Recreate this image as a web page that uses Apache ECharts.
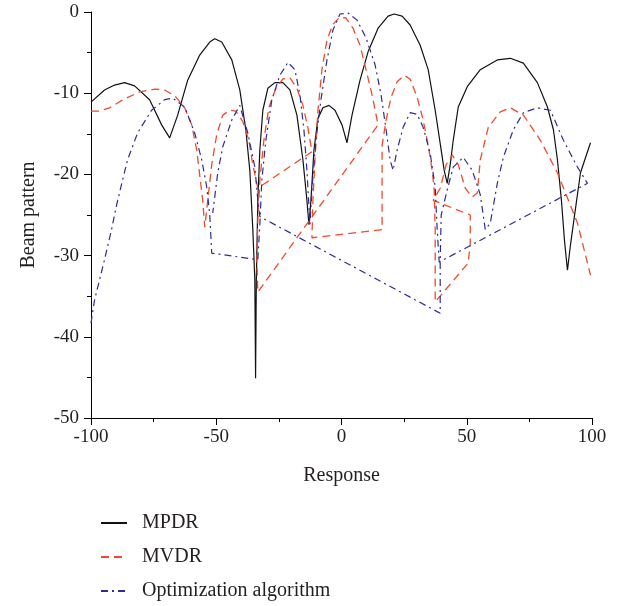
<!DOCTYPE html>
<html>
<head>
<meta charset="utf-8">
<script src="https://cdn.jsdelivr.net/npm/echarts@6/dist/echarts.min.js"></script>
<style>
  html, body { margin: 0; padding: 0; background: #fff; }
  #chart { width: 625px; height: 606px; }
</style>
</head>
<body>
<div id="chart"></div>
<script>
// x axis / y axis ticks
const xTicks = [-100, -50, 0, 50, 100];
const yTicks = [-50, -40, -30, -20, -10, 0];
const seriesNames = ['MPDR', 'MVDR', 'Optimization algorithm'];

// MPDR (black solid)
const mpdrX = [-100, -94.6, -90.6, -86.6, -82.6, -76.6, -71.8, -68.6, -65.4, -61.4, -56.6, -52.6, -50.6, -47.8, -43.8, -40.6,
  -38.2, -36.6, -35.4, -34.6, -34.3, -34.0, -33.4, -32.6, -31.4, -29.4, -26.6, -23.4, -20.6, -17.8, -15.4, -13.8, -13.0,
  -12.2, -11.0, -9.4, -7.4, -5.0, -2.6, 0.2, 2.2, 4.2, 7.4, 10.6, 14.6, 18.6, 21.0, 24.2, 27.4, 31.4, 34.6, 37.4, 39.8,
  41.0, 42.2, 43.4, 44.6, 46.6, 50.2, 55.4, 62.2, 67.4, 72.6, 78.2, 82.2, 84.6, 86.2, 87.8, 89.0, 90.2, 91.4, 92.6, 95.4, 99.4];
const mpdrY = [-11.1, -9.6, -9.0, -8.7, -9.1, -10.8, -13.9, -15.5, -12.7, -8.4, -5.3, -3.7, -3.3, -3.7, -5.9, -9.6,
  -14.5, -19.5, -26.8, -33.0, -45.1, -33.0, -23.2, -17.0, -12.1, -9.4, -8.7, -8.7, -9.6, -12.7, -18.2, -23.2, -26.2,
  -23.2, -17.0, -13.1, -11.8, -11.5, -12.1, -13.9, -16.1, -12.7, -8.4, -4.9, -2.0, -0.5, -0.25, -0.5, -1.6, -4.1, -7.1, -12.1, -17.0,
  -19.5, -21.1, -18.8, -15.8, -11.7, -9.2, -7.1, -5.9, -5.7, -6.3, -8.7, -11.7, -14.5, -18.2, -23.2, -28.1, -31.8, -28.7, -26.0, -19.8, -16.1];

// MVDR (red dashed)
const mvdrX = [-100, -96.6, -92.6, -86.6, -80.6, -74.6, -70.6, -66.6, -62.6, -59.8, -57.8, -56.6, -55.4, -54.6,
  -53.4, -51.8, -49.8, -47.4, -44.6, -42.2, -39.4, -37.0, -35.4, -33.4,
  -11.8, -13.4, -15.4, -17.8, -20.6, -23.4, -26.2, -29.0, -31.0, -32.6, -33.4, -33.8, -33.4,
  14.6, 12.2, 9.8, 7.4, 4.6, 1.8, -0.6, -3.4, -5.8, -7.8, -9.4, -10.6, -11.4, -11.8,
  16.2, 16.2, 17.8, 19.8, 22.2, 25.0, 27.4, 30.2, 32.6, 34.6, 36.2, 37.0, 37.4, 37.4, 37.4,
  50.6, 51.4, 51.4, 36.6, 39.4, 41.8, 44.2, 46.6, 49.4, 52.2, 54.2,
  55.4, 58.6, 63.4, 67.4, 72.6, 79.4, 86.2, 94.2, 99.4];
const mvdrY = [-12.2, -12.2, -11.8, -10.7, -9.85, -9.5, -9.6, -10.3, -11.8, -13.9, -17.0, -20.1, -23.2, -26.5,
  -23.2, -18.8, -15.1, -12.7, -12.1, -12.2, -13.5, -15.8, -18.8, -21.7,
  -17.2, -14.3, -11.5, -9.4, -8.1, -8.25, -9.4, -11.8, -15.8, -20.7, -25.6, -30.5, -34.5,
  -13.9, -10.2, -7.1, -4.1, -2.0, -0.74, -0.62, -1.5, -3.45, -7.1, -12.1, -18.2, -23.2, -27.8,
  -26.8, -16.4, -13.3, -10.5, -8.6, -7.8, -8.25, -10.5, -13.3, -16.4, -19.5, -21.9, -26.8, -31.8, -35.7,
  -30.9, -28.45, -25.0, -23.2, -21.7, -18.8, -17.6, -18.8, -21.7, -22.8, -22.3,
  -18.2, -14.2, -12.3, -11.8, -12.7, -15.8, -19.8, -26.0, -32.4];

// Optimization algorithm (blue dash-dot)
const optX = [-100, -98.6, -96.6, -94.6, -91.8, -89.8, -87.4, -85.4, -81.4, -75.8, -70.6, -67.4, -62.6, -58.6, -55.8, -53.8, -52.6, -51.8,
  -33.4, -32.6, -31.8, -30.2, -27.8, -24.6, -21.4, -18.6, -16.6, -15.0, -13.8, -12.6,
  -11.8, -10.2, -8.2, -5.8, -3.4, -0.6, 2.6, 6.2, 9.8, 13.4, 15.8, 17.8, 19.4, 20.6,
  22.2, 24.6, 27.4, 30.2, 32.6, 35.4, 37.4, 38.2, 39.0,
  98.2, 94.2, 88.6, 83.4, 78.2, 72.6, 68.6, 64.6, 62.2, 59.4, 57.4,
  55.4, 52.2, 48.6, 44.6, 42.2, 39.8, 39.4, 39.4,
  -32.6, -33.4, -34.6, -37.4, -40.6, -43.8, -47.4, -49.4, -51.4];
const optY = [-38.3, -35.5, -33.0, -30.5, -26.8, -23.8, -20.7, -18.2, -14.9, -12.1, -10.8, -10.6, -11.7, -14.9, -18.2, -21.55, -25.0, -29.7,
  -30.5, -26.2, -20.7, -15.8, -10.8, -7.8, -6.2, -7.1, -10.2, -14.5, -19.5, -26.2,
  -21.9, -15.8, -10.8, -5.9, -2.2, -0.25, -0.12, -1.0, -3.2, -6.5, -10.2, -14.5, -18.2, -19.5,
  -17.0, -14.2, -12.4, -12.6, -14.2, -17.4, -21.55, -26.8, -30.8,
  -21.1, -19.1, -15.8, -12.1, -11.8, -12.4, -14.5, -17.9, -21.1, -26.0, -26.8,
  -22.5, -19.5, -17.9, -19.1, -21.9, -25.0, -30.5, -37.1,
  -25.2, -23.2, -19.1, -14.9, -11.5, -13.3, -16.6, -19.8, -24.75];

const zip = (xs, ys) => xs.map((x, i) => [x, ys[i]]);

const chart = echarts.init(document.getElementById('chart'));
const font = '"Liberation Serif", "DejaVu Serif", serif';
const textColor = '#231f20';

const axisCommon = {
    axisLine: { show: true, onZero: false, lineStyle: { color: '#000', width: 1 } },
    axisTick: { show: true, inside: false, length: 7, lineStyle: { color: '#000' } },
    minorTick: { show: true, splitNumber: 2, length: 4, lineStyle: { color: '#000' } },
    splitLine: { show: false },
    axisLabel: { color: textColor, fontFamily: font, fontSize: 19 },
    nameTextStyle: { color: textColor, fontFamily: font, fontSize: 20 },
    nameLocation: 'middle',
};

const option = {
    backgroundColor: '#fff',
    animation: false,
    grid: { left: 91, right: 33, top: 12, bottom: 188, containLabel: false },
    xAxis: {
        ...axisCommon,
        type: 'value',
        min: xTicks[0],
        max: xTicks[xTicks.length - 1],
        interval: 50,
        name: 'Response',
        nameGap: 48,
        axisLabel: { ...axisCommon.axisLabel, margin: 10 },
    },
    yAxis: {
        ...axisCommon,
        type: 'value',
        min: yTicks[0],
        max: yTicks[yTicks.length - 1],
        interval: 10,
        name: 'Beam pattern',
        nameGap: 52,
        axisLabel: { ...axisCommon.axisLabel, margin: 12 },
    },
    legend: {
        orient: 'vertical',
        left: 100,
        top: 513,
        padding: 0,
        itemWidth: 26,
        itemHeight: 14,
        itemGap: 14,
        data: seriesNames,
        itemStyle: { color: 'transparent', opacity: 0, borderWidth: 0 },
        textStyle: { color: textColor, fontFamily: font, fontSize: 20, padding: [0, 0, 0, 10] },
    },
    series: [
        {
            name: seriesNames[0],
            type: 'line',
            symbol: 'none',
            lineStyle: { color: '#111', width: 1.2, type: 'solid' },
            itemStyle: { color: '#111' },
            data: zip(mpdrX, mpdrY),
        },
        {
            name: seriesNames[1],
            type: 'line',
            symbol: 'none',
            lineStyle: { color: '#f04a2c', width: 1.3, type: [8, 5] },
            itemStyle: { color: '#f04a2c' },
            data: zip(mvdrX, mvdrY),
        },
        {
            name: seriesNames[2],
            type: 'line',
            symbol: 'none',
            lineStyle: { color: '#2e2b98', width: 1.2, type: [7, 4, 2, 4] },
            itemStyle: { color: '#2e2b98' },
            data: zip(optX, optY),
        },
    ],
};

chart.setOption(option);
</script>
</body>
</html>
